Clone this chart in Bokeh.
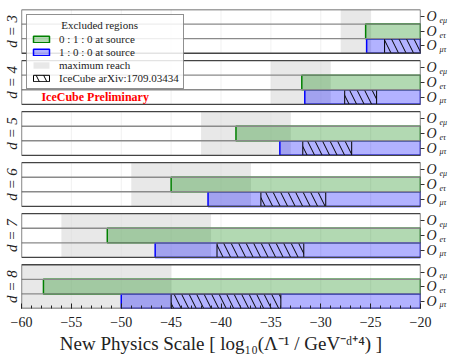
from bokeh.plotting import figure
from bokeh.models import (Legend, LegendItem, LinearAxis, FixedTicker, Range1d)
from bokeh.embed import file_html
from bokeh.resources import INLINE

# ---------------- data ----------------
dims = [3, 4, 5, 6, 7, 8]
reach_lo = [-28.0, -35.0, -42.0, -49.0, -56.0, -60.0]
reach_hi = [-25.0, -29.0, -33.0, -37.0, -41.0, -45.0]
green_start = [-25.5, -31.9, -38.5, -45.0, -51.4, -57.8]   # 0:1:0 at source (O_e tau)
blue_start = [-25.4, -31.6, -34.1, -41.3, -46.6, -50.0]    # 1:0:0 at source (O_mu tau)
icecube_lo = [-23.6, -27.6, -31.8, -36.0, -40.4, -45.0]
icecube_hi = [-20.0, -24.4, -26.9, -29.5, -31.7, -34.0]
x_min, x_max = -60, -20
x_ticks = [-60, -55, -50, -45, -40, -35, -30, -25, -20]
x_tick_labels = ["\u221260", "\u221255", "\u221250", "\u221245", "\u221240",
                 "\u221235", "\u221230", "\u221225", "\u221220"]
row_names = ["e\u03bc", "e\u03c4", "\u03bc\u03c4"]   # top, middle, bottom

FONT = "Liberation Serif"
PANEL = 3.0
GAP = 0.5
n = len(dims)
bottoms = [(n - 1 - i) * (PANEL + GAP) for i in range(n)]
tops = [b + PANEL for b in bottoms]
ytop = tops[0]

p = figure(width=458, height=360, x_range=Range1d(x_min, x_max), y_range=Range1d(0, ytop),
           output_backend="svg", toolbar_location=None,
           min_border_left=21, min_border_right=38, min_border_top=9, min_border_bottom=52)
p.grid.visible = False
p.outline_line_color = None
p.background_fill_color = "white"

# faint grid segments inside panels
gx, gy0, gy1 = [], [], []
for b in bottoms:
    for t in x_ticks[1:-1]:
        gx.append(t); gy0.append(b); gy1.append(b + PANEL)
p.segment(x0=gx, x1=gx, y0=gy0, y1=gy1, line_color="#eeeeee", line_width=0.8)

# maximum reach (gray)
r_reach = p.quad(left=reach_lo, right=reach_hi, bottom=bottoms, top=tops,
                 fill_color="#d9d9d9", fill_alpha=0.6, line_color=None)
# green bars (O_e tau row)
r_green = p.quad(left=green_start, right=[x_max] * n, bottom=[b + 1 for b in bottoms],
                 top=[b + 2 for b in bottoms], fill_color="green", fill_alpha=0.3,
                 line_color="green", line_width=1.5)
# blue bars (O_mu tau row)
r_blue = p.quad(left=blue_start, right=[x_max] * n, bottom=bottoms,
                top=[b + 1 for b in bottoms], fill_color="blue", fill_alpha=0.3,
                line_color="blue", line_width=1.5)
# IceCube hatched
r_ice = p.quad(left=icecube_lo, right=icecube_hi, bottom=bottoms, top=[b + 1 for b in bottoms],
               fill_color=None, hatch_pattern="\\", hatch_color="black", hatch_weight=1,
               hatch_scale=15, line_color="black", line_width=1)

# row separators
rx, ry = [], []
for b in bottoms:
    for k in (1, 2):
        rx.append(x_min); ry.append(b + k)
p.segment(x0=rx, x1=[x_max] * len(rx), y0=ry, y1=ry, line_color="#8a8a8a", line_width=1.4)
# panel borders
p.quad(left=[x_min] * n, right=[x_max] * n, bottom=bottoms, top=tops,
       fill_color=None, line_color="#444444", line_width=1.3)

# x axis
xa = p.xaxis[0]
xa.ticker = FixedTicker(ticks=x_ticks, minor_ticks=list(range(x_min, x_max + 1)))
xa.major_label_overrides = {t: lab for t, lab in zip(x_ticks, x_tick_labels)}
xa.major_tick_in = 5
xa.major_tick_out = 0
xa.minor_tick_in = 3
xa.minor_tick_out = 0
xa.axis_line_color = None
xa.major_tick_line_color = "#222222"
xa.minor_tick_line_color = "#222222"
xa.major_label_text_font = FONT
xa.major_label_text_font_size = "14px"
xa.major_label_text_color = "#222222"
xa.major_label_standoff = 8
xa.axis_label = "New Physics Scale [ log\u2081\u2080(\u039b\u207b\u00b9 / GeV\u207b\u1d48\u207a\u2074) ]"
xa.axis_label_text_font = FONT
xa.axis_label_text_font_style = "normal"
xa.axis_label_text_font_size = "19px"
xa.axis_label_text_color = "#222222"
xa.axis_label_standoff = 3

# left axis: d labels
ya = p.yaxis[0]
panel_centers = [b + PANEL / 2 for b in bottoms]
ya.ticker = FixedTicker(ticks=panel_centers, minor_ticks=[])
ya.major_label_overrides = {c: "d = %d" % d for c, d in zip(panel_centers, dims)}
ya.major_label_orientation = "vertical"
ya.major_tick_line_color = None
ya.major_tick_in = 0
ya.major_tick_out = 0
ya.axis_line_color = None
ya.major_label_text_font = FONT
ya.major_label_text_font_style = "italic"
ya.major_label_text_font_size = "15px"
ya.major_label_text_color = "#222222"
ya.major_label_standoff = 1

# right axes: O labels and subscripts
row_centers, row_labels = [], []
for b in bottoms:
    for k, name in enumerate(row_names):
        row_centers.append(b + 2.5 - k)
        row_labels.append(name)
ra = LinearAxis(ticker=FixedTicker(ticks=row_centers, minor_ticks=[]))
ra.major_label_overrides = {c: "O" for c in row_centers}
ra.major_tick_in = 0
ra.major_tick_out = 4
ra.axis_line_color = None
ra.major_tick_line_color = "#333333"
ra.major_label_standoff = 2
ra.major_label_text_font = FONT
ra.major_label_text_font_style = "italic"
ra.major_label_text_font_size = "14px"
ra.major_label_text_color = "#222222"
p.add_layout(ra, "right")

sub_pos = [c - 0.25 for c in row_centers]
sa = LinearAxis(ticker=FixedTicker(ticks=sub_pos, minor_ticks=[]))
sa.major_label_overrides = {c: lab for c, lab in zip(sub_pos, row_labels)}
sa.major_tick_in = 0
sa.major_tick_out = 0
sa.major_tick_line_color = None
sa.axis_line_color = None
sa.major_label_standoff = 0
sa.major_label_text_font = FONT
sa.major_label_text_font_style = "italic"
sa.major_label_text_font_size = "8px"
sa.major_label_text_color = "#222222"
p.add_layout(sa, "right")

# IceCube Preliminary
p.text(x=[-58.0], y=[bottoms[1] + 0.5], text=["IceCube Preliminary"], text_color="red",
       text_font=FONT, text_font_style="bold", text_font_size="12px",
       text_baseline="middle", text_align="left")

legend = Legend(items=[LegendItem(label="0 : 1 : 0 at source", renderers=[r_green]),
                       LegendItem(label="1 : 0 : 0 at source", renderers=[r_blue]),
                       LegendItem(label="maximum reach", renderers=[r_reach]),
                       LegendItem(label="IceCube arXiv:1709.03434", renderers=[r_ice])],
                title="\u00a0\u00a0\u00a0\u00a0\u00a0\u00a0\u00a0\u00a0\u00a0\u00a0\u00a0Excluded regions",
                location="top_left")
legend.margin = 5
legend.padding = 4
legend.spacing = 1
legend.glyph_width = 20
legend.glyph_height = 8
legend.label_height = 12
legend.label_standoff = 8
legend.title_standoff = 2
legend.label_text_font = FONT
legend.label_text_font_size = "11px"
legend.label_text_color = "#222222"
legend.title_text_font = FONT
legend.title_text_font_style = "normal"
legend.title_text_font_size = "11px"
legend.title_text_color = "#222222"
legend.border_line_color = "#222222"
legend.border_line_width = 1
legend.background_fill_alpha = 0.85
p.add_layout(legend)

open("out.html", "w").write(file_html(p, INLINE))
